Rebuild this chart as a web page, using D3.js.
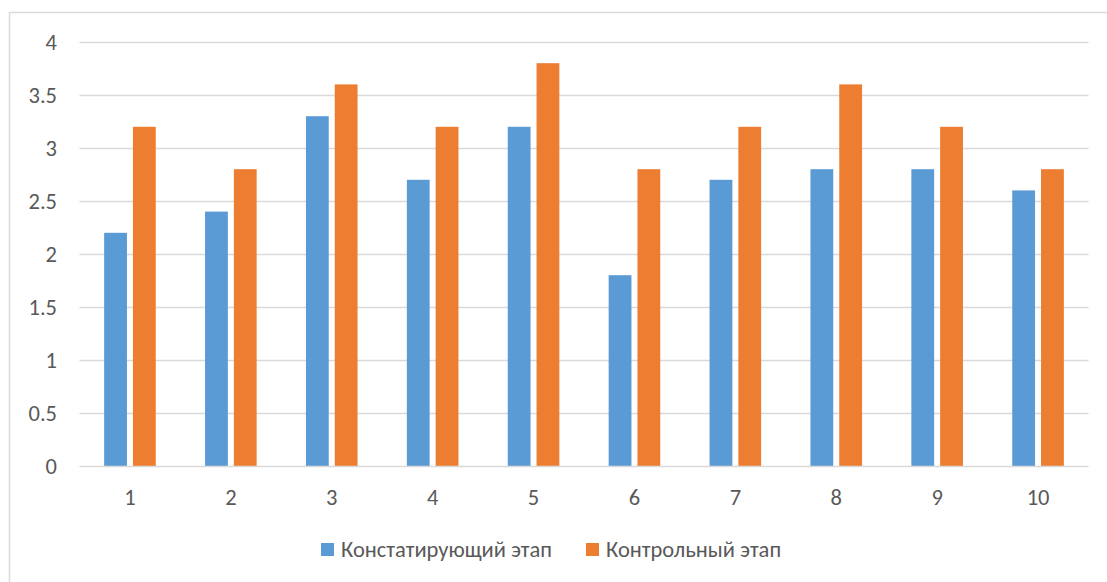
<!DOCTYPE html>
<html>
<head>
<meta charset="utf-8">
<script src="https://cdn.jsdelivr.net/npm/d3@7"></script>
<style>
  html, body { margin: 0; padding: 0; background: #fff; }
  svg { display: block; }
</style>
</head>
<body>
<svg id="chart" width="1107" height="582"></svg>
<script>
// Stage scores per participant
const categories = ["1", "2", "3", "4", "5", "6", "7", "8", "9", "10"];
const seriesNames = ["Констатирующий этап", "Контрольный этап"];
const ascertainingValues = [2.2, 2.4, 3.3, 2.7, 3.2, 1.8, 2.7, 2.8, 2.8, 2.6];
const controlValues = [3.2, 2.8, 3.6, 3.2, 3.8, 2.8, 3.2, 3.6, 3.2, 2.8];
const yTicks = [0, 0.5, 1, 1.5, 2, 2.5, 3, 3.5, 4];

const colors = ["#5b9bd5", "#ed7d31"];
const fontFamily = "Carlito, Calibri, 'Open Sans', 'Noto Sans', sans-serif";
const textColor = "#595959";
const fontSize = 22.5;

const svg = d3.select("#chart");

// Outer chart frame
svg.append("rect")
  .attr("x", 9.5).attr("y", 12.5)
  .attr("width", 1110).attr("height", 600)
  .attr("fill", "#fff")
  .attr("stroke", "#d9d9d9").attr("stroke-width", 1.5);

const plot = { left: 79.5, right: 1088.5, top: 42, bottom: 466 };

const x = d3.scaleBand()
  .domain(categories)
  .range([plot.left, plot.right])
  .padding(0);

const y = d3.scaleLinear()
  .domain([0, 4])
  .range([plot.bottom, plot.top]);

// Horizontal gridlines
svg.append("g")
  .selectAll("line")
  .data(yTicks.filter(t => t > 0))
  .join("line")
  .attr("x1", plot.left).attr("x2", plot.right)
  .attr("y1", d => Math.round(y(d)) + 0.5)
  .attr("y2", d => Math.round(y(d)) + 0.5)
  .attr("stroke", "#d9d9d9").attr("stroke-width", 1.3);

// Bars: two series grouped within each category band
const barWidth = 22.8;
const barGap = 6;
const groupWidth = barWidth * 2 + barGap;
const series = [ascertainingValues, controlValues];

series.forEach((vals, si) => {
  svg.append("g")
    .selectAll("rect")
    .data(vals)
    .join("rect")
    .attr("x", (d, i) => x(categories[i]) + (x.bandwidth() - groupWidth) / 2 + si * (barWidth + barGap))
    .attr("y", d => y(d))
    .attr("width", barWidth)
    .attr("height", d => y(0) - y(d))
    .attr("fill", colors[si]);
});

// Baseline axis
svg.append("line")
  .attr("x1", plot.left).attr("x2", plot.right)
  .attr("y1", Math.round(y(0)) + 0.5).attr("y2", Math.round(y(0)) + 0.5)
  .attr("stroke", "#d9d9d9").attr("stroke-width", 1.5);

// Y axis labels
const yAxis = d3.axisLeft(y).tickValues(yTicks).tickSize(0).tickPadding(0)
  .tickFormat(d => String(d));
svg.append("g")
  .attr("transform", `translate(${57},0)`)
  .call(yAxis)
  .call(g => g.select(".domain").remove())
  .selectAll("text")
  .attr("font-family", fontFamily)
  .attr("font-size", fontSize)
  .attr("fill", textColor);

// X axis labels
const xAxis = d3.axisBottom(x).tickSize(0).tickPadding(0);
svg.append("g")
  .attr("transform", `translate(0,${505})`)
  .call(xAxis)
  .call(g => g.select(".domain").remove())
  .selectAll("text")
  .attr("y", 0)
  .attr("dy", 0)
  .attr("font-family", fontFamily)
  .attr("font-size", fontSize)
  .attr("fill", textColor);

// Legend
const legendItems = [
  { name: seriesNames[0], color: colors[0], x: 321 },
  { name: seriesNames[1], color: colors[1], x: 586 }
];
const legend = svg.append("g");
legendItems.forEach(item => {
  legend.append("rect")
    .attr("x", item.x).attr("y", 543)
    .attr("width", 13).attr("height", 13)
    .attr("fill", item.color);
  legend.append("text")
    .attr("x", item.x + 20).attr("y", 557)
    .attr("font-family", fontFamily)
    .attr("font-size", fontSize)
    .attr("fill", textColor)
    .text(item.name);
});
</script>
</body>
</html>
